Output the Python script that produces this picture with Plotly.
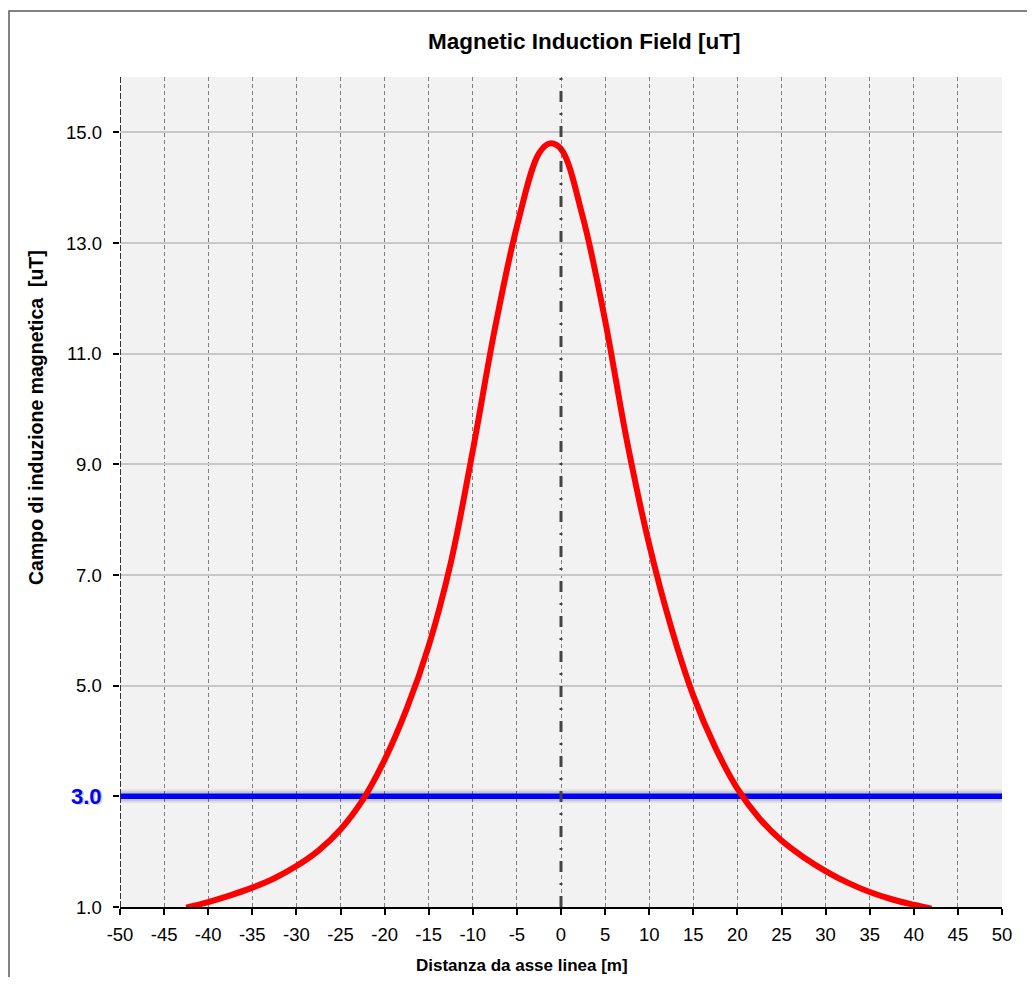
import plotly.graph_objects as go

# ---- data ----
distance_m = [-42.5, -40, -37.5, -35, -32.5, -30, -27.5, -25, -22.5, -20, -17.5, -15,
              -12.5, -10, -7.5, -5, -2.5, -1.25, 0, 2.5, 5, 7.5, 10, 12.5, 15,
              17.5, 20, 22.5, 25, 27.5, 30, 32.5, 35, 37.5, 40, 42]
field_uT = [0.99, 1.09, 1.21, 1.35, 1.52, 1.74, 2.02, 2.40, 2.93, 3.66, 4.58, 5.72,
            7.22, 9.25, 11.45, 13.30, 14.62, 14.80, 14.70, 13.45, 11.60, 9.40, 7.55, 6.05, 4.82,
            3.88, 3.14, 2.60, 2.20, 1.90, 1.65, 1.44, 1.27, 1.14, 1.04, 0.97]
threshold_uT = 3.0
x_range = [-50, 50]
y_range = [1, 16]
x_tickvals = list(range(-50, 51, 5))
x_ticktext = [str(v) for v in x_tickvals]
y_tickvals = [1, 3, 5, 7, 9, 11, 13, 15]
y_ticktext = ["1.0", "3.0", "5.0", "7.0", "9.0", "11.0", "13.0", "15.0"]

title_text = "Magnetic Induction Field [uT]"
x_title = "Distanza da asse linea [m]"
y_title = "Campo di induzione magnetica&nbsp;&nbsp;[uT]"

# page body has an 8px margin; the figure is placed at (8, 8)
OFF = 8
W, H = 1035 - 2 * OFF, 985 - 2 * OFF
PL, PR, PT, PB = 120, 1002, 77, 907  # plot area in page pixels
L, T = PL - OFF, PT - OFF
R, B = W - (PR - OFF), H - (PB - OFF)
pw, ph = PR - PL, PB - PT


def px_to_paper_x(px):
    return (px - PL) / pw


def px_to_paper_y(py):
    return (PB - py) / ph


fig = go.Figure()

# glow under threshold line
for w, a in [(14, 0.06), (10, 0.12)]:
    fig.add_trace(go.Scatter(x=x_range, y=[threshold_uT, threshold_uT], mode="lines",
                             line=dict(color=f"rgba(0,0,0,{a})", width=w),
                             hoverinfo="skip", showlegend=False))
fig.add_trace(go.Scatter(x=x_range, y=[threshold_uT, threshold_uT], mode="lines",
                         line=dict(color="#0000ff", width=5.5), showlegend=False))

fig.add_trace(go.Scatter(x=distance_m, y=field_uT, mode="lines",
                         line=dict(color="#ff0000", width=6, shape="spline", smoothing=1.0),
                         showlegend=False))

font_family = "Liberation Sans, Arial, sans-serif"

annotations = [
    dict(text=f"<b>{title_text}</b>", xref="paper", yref="paper",
         x=px_to_paper_x(584), y=px_to_paper_y(42), showarrow=False,
         xanchor="center", yanchor="middle", font=dict(size=22.5, color="black")),
    dict(text=f"<b>{x_title}</b>", xref="paper", yref="paper",
         x=px_to_paper_x(522), y=px_to_paper_y(965), showarrow=False,
         xanchor="center", yanchor="middle", font=dict(size=17, color="black")),
    dict(text=f"<b>{y_title}</b>", xref="paper", yref="paper",
         x=px_to_paper_x(36), y=px_to_paper_y(418), showarrow=False, textangle=-90,
         xanchor="center", yanchor="middle", font=dict(size=19.5, color="black")),
]

# y tick labels (placed at the axis values)
for v, t in zip(y_tickvals, y_ticktext):
    if v == threshold_uT:
        for dx, dy, col in [(1.5, -1, "rgba(0,0,0,0.18)"), (0.5, 0, "rgba(0,0,0,0.12)")]:
            annotations.append(dict(text=f"<b>{t}</b>", xref="paper", yref="y",
                                    x=px_to_paper_x(104 + dx), y=v, yshift=dy,
                                    showarrow=False, xanchor="right", yanchor="middle",
                                    font=dict(size=22, color=col)))
        annotations.append(dict(text=f"<b>{t}</b>", xref="paper", yref="y",
                                x=px_to_paper_x(104), y=v, showarrow=False,
                                xanchor="right", yanchor="middle",
                                font=dict(size=22, color="#0000ff")))
    else:
        annotations.append(dict(text=t, xref="paper", yref="y",
                                x=px_to_paper_x(104), y=v, showarrow=False,
                                xanchor="right", yanchor="middle",
                                font=dict(size=18.5, color="black")))

fig.update_layout(
    width=W, height=H,
    margin=dict(l=L, r=R, t=T, b=B),
    paper_bgcolor="white",
    plot_bgcolor="#f2f2f2",
    font=dict(family=font_family, color="black"),
    showlegend=False,
    xaxis=dict(range=x_range, tickvals=x_tickvals, ticktext=x_ticktext, showgrid=True,
               gridcolor="#808080", gridwidth=1, griddash="4px,3px",
               zeroline=False, showline=True, linecolor="black", linewidth=1.5,
               ticks="outside", ticklen=6, tickcolor="black", tickwidth=1.5,
               tickfont=dict(size=18.5, color="black"), ticklabelstandoff=4),
    yaxis=dict(range=y_range, tickvals=y_tickvals, showticklabels=False, showgrid=True,
               gridcolor="#c8c8c8", gridwidth=1.5, zeroline=False, showline=False,
               ticks="outside", ticklen=6, tickcolor="black", tickwidth=1.5),
    shapes=[
        # outer frame
        dict(type="rect", xref="paper", yref="paper",
             x0=px_to_paper_x(9), x1=px_to_paper_x(1045),
             y0=px_to_paper_y(995), y1=px_to_paper_y(11),
             line=dict(color="#5a5a5a", width=1.5), fillcolor="rgba(0,0,0,0)", layer="below"),
        # left edge dashed
        dict(type="line", xref="x", yref="paper", x0=-50, x1=-50, y0=0, y1=1,
             line=dict(color="#333333", width=2, dash="6px,2px"), layer="above"),
        # centre line dash-dot
        dict(type="line", xref="x", yref="paper", x0=0, x1=0, y0=0, y1=1,
             line=dict(color="#444444", width=3, dash="11px,11px,2px,11px"), layer="above"),
    ],
    annotations=annotations,
)

fig.write_html("out.html")
